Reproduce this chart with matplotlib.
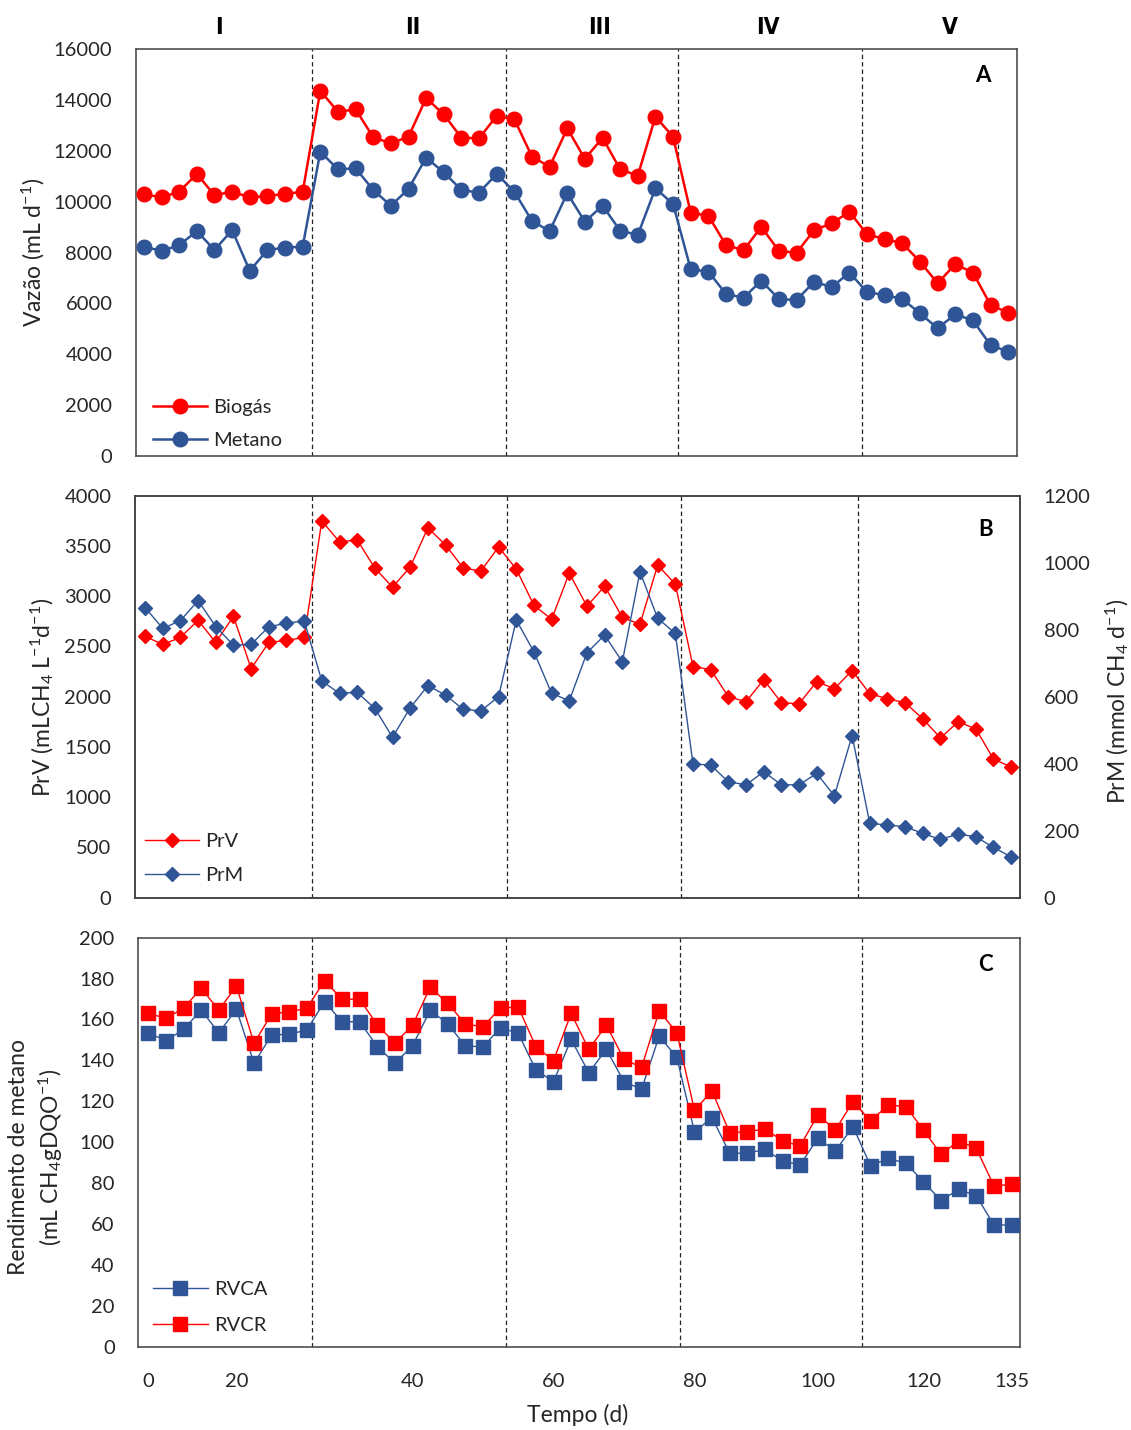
import numpy as np
import matplotlib
matplotlib.use("Agg")
import matplotlib.pyplot as plt

plt.rcParams["font.family"] = ["Lato", "DejaVu Sans"]
plt.rcParams["mathtext.fontset"] = "custom"
plt.rcParams["mathtext.rm"] = "Lato"
plt.rcParams["mathtext.it"] = "Lato"

W, H = 1131, 1430
RED = "#FF0000"
BLUE = "#2F5597"
FRAME = "#404040"
TXT = "#262626"
FS = 14.5
LFS = 16.5

# --- data (one point per sampling, 50 samplings) ---
biogas = [10290, 10170, 10390, 11090, 10250, 10390, 10170, 10220, 10310, 10380,
          14360, 13530, 13630, 12530, 12290, 12550, 14070, 13430, 12510, 12490, 13370,
          13240, 11770, 11370, 12880, 11680, 12510, 11270, 11020, 13340, 12550,
          9560, 9450, 8290, 8090, 9010, 8060, 7990, 8880, 9150, 9600,
          8710, 8530, 8360, 7640, 6790, 7540, 7210, 5940, 5630]
metano = [8230, 8060, 8290, 8840, 8100, 8880, 7280, 8100, 8190, 8230,
          11960, 11270, 11310, 10460, 9840, 10500, 11730, 11150, 10460, 10350, 11090,
          10390, 9240, 8840, 10330, 9210, 9840, 8860, 8690, 10520, 9910,
          7340, 7250, 6370, 6220, 6890, 6170, 6130, 6850, 6640, 7210,
          6440, 6330, 6170, 5610, 5020, 5570, 5330, 4360, 4100]

prv = [2600, 2520, 2590, 2760, 2540, 2800, 2280, 2540, 2560, 2590,
       3750, 3540, 3560, 3280, 3090, 3290, 3680, 3510, 3280, 3250, 3490,
       3270, 2910, 2770, 3230, 2900, 3100, 2790, 2720, 3310, 3120,
       2300, 2270, 2000, 1950, 2170, 1940, 1930, 2150, 2080, 2260,
       2030, 1980, 1940, 1780, 1590, 1750, 1680, 1380, 1300]
prm = [866, 804, 827, 887, 809, 754, 756, 809, 819, 827,
       647, 610, 613, 565, 479, 567, 633, 605, 562, 558, 600,
       829, 734, 610, 588, 731, 784, 704, 973, 834, 789,
       399, 396, 346, 337, 376, 337, 337, 371, 304, 484,
       222, 217, 212, 192, 174, 190, 182, 150, 122]

rvca = [153.5, 149.6, 155.2, 164.6, 153.5, 165.0, 138.6, 152.4, 152.8, 154.9,
        168.7, 158.9, 158.9, 146.7, 138.6, 147.2, 164.6, 157.8, 147.0, 146.7, 156.0,
        153.2, 135.3, 129.6, 150.3, 134.0, 145.4, 129.6, 125.9, 151.9, 141.5,
        105.1, 112.0, 94.6, 94.6, 96.5, 90.8, 88.9, 101.9, 95.8, 107.6,
        88.4, 92.1, 89.7, 80.7, 71.4, 77.0, 73.8, 59.5, 59.5]
rvcr = [163.0, 160.6, 165.5, 175.3, 164.6, 176.4, 148.4, 162.7, 163.8, 165.5,
        179.0, 169.9, 169.9, 157.3, 148.4, 157.3, 175.7, 167.9, 157.7, 156.5, 165.8,
        166.0, 146.7, 139.9, 163.0, 145.4, 157.3, 140.5, 136.6, 164.2, 153.5,
        115.7, 125.0, 104.6, 105.1, 106.5, 100.7, 98.1, 113.3, 106.0, 119.8,
        110.4, 118.2, 117.4, 106.0, 94.1, 100.7, 97.0, 78.6, 79.4]

# day labels shown under some samplings
day_tick_idx = [0, 5, 15, 23, 31, 38, 44, 49]
day_labels = ["0", "20", "40", "60", "80", "100", "120", "135"]
phases = ["I", "II", "III", "IV", "V"]


def add_axes(left, top, right, bottom):
    return plt.gcf().add_axes([left / W, 1 - bottom / H, (right - left) / W, (bottom - top) / H])


def frame(ax):
    for s in ax.spines.values():
        s.set_color(FRAME)
        s.set_linewidth(1.1)
    ax.tick_params(length=0, labelsize=FS, colors=TXT, pad=17)


def style(ax, xlim, bounds, letter, letter_y):
    ax.set_xlim(*xlim)
    frame(ax)
    for b in bounds:
        ax.axvline(b, color="#222222", lw=0.9, ls=(0, (3.5, 2.5)), zorder=1)
    ax.text(0.961, letter_y, letter, transform=ax.transAxes, fontsize=16,
            fontweight="bold", ha="center", va="center", color="black")


def legend(ax, anchor, spacing, handles=None, labels=None):
    kw = dict(loc="lower left", bbox_to_anchor=anchor, frameon=False, fontsize=FS,
              handlelength=2.7, handletextpad=0.3, labelspacing=spacing,
              borderpad=0, borderaxespad=0, labelcolor=TXT)
    if handles is None:
        ax.legend(**kw)
    else:
        ax.legend(handles, labels, **kw)


def main():
    x = np.arange(len(biogas))
    fig = plt.figure(figsize=(W / 100, H / 100), dpi=100)

    # --- A ---
    axA = add_axes(136, 49, 1017, 456)
    axA.plot(x, biogas, color=RED, lw=1.8, marker="o", ms=10.5, label="Biogás", zorder=3)
    axA.plot(x, metano, color=BLUE, lw=1.8, marker="o", ms=10.5, label="Metano", zorder=3)
    axA.set_ylim(0, 16000)
    axA.set_yticks(np.arange(0, 16001, 2000))
    axA.set_xticks([])
    style(axA, (-0.45, 49.5), [9.51, 20.5, 30.29, 40.69], "A", 0.935)
    legend(axA, (0.019, 0.018), 0.75)

    # --- B ---
    axB = add_axes(135, 495.7, 1020, 897.7)
    axB2 = axB.twinx()
    axB.plot(x, prv, color=RED, lw=1.0, marker="D", ms=7.6, label="PrV", zorder=3)
    axB2.plot(x, prm, color=BLUE, lw=1.0, marker="D", ms=7.6, label="PrM", zorder=3)
    axB.set_ylim(0, 4000)
    axB.set_yticks(np.arange(0, 4001, 500))
    axB2.set_ylim(0, 1200)
    axB2.set_yticks(np.arange(0, 1201, 200))
    axB.set_xticks([])
    style(axB, (-0.57, 49.5), [9.43, 20.47, 30.3, 40.34], "B", 0.915)
    frame(axB2)
    h1, l1 = axB.get_legend_handles_labels()
    h2, l2 = axB2.get_legend_handles_labels()
    legend(axB2, (0.011, 0.033), 0.85, h1 + h2, l1 + l2)

    # --- C ---
    axC = add_axes(138.3, 937.7, 1020, 1346.7)
    axC.plot(x, rvca, color=BLUE, lw=1.0, marker="s", ms=10.5, label="RVCA", zorder=3)
    axC.plot(x, rvcr, color=RED, lw=1.0, marker="s", ms=10.5, label="RVCR", zorder=4)
    axC.set_ylim(0, 200)
    axC.set_yticks(np.arange(0, 201, 20))
    style(axC, (-0.57, 49.48), [9.27, 20.28, 30.17, 40.52], "C", 0.935)
    axC.set_xticks(day_tick_idx)
    axC.set_xticklabels(day_labels)
    axC.tick_params(axis="x", pad=19)
    legend(axC, (0.017, 0.03), 0.95)

    # --- labels ---
    fig.text(33 / W, 1 - 252 / H, "Vazão (mL d$^{-1}$)", rotation=90,
             ha="center", va="center", fontsize=LFS, color=TXT)
    fig.text(42 / W, 1 - 697 / H, "PrV (mLCH$_4$ L$^{-1}$d$^{-1}$)", rotation=90,
             ha="center", va="center", fontsize=LFS, color=TXT)
    fig.text(1117 / W, 1 - 701 / H, "PrM (mmol CH$_4$ d$^{-1}$)", rotation=90,
             ha="center", va="center", fontsize=LFS, color=TXT)
    fig.text(36.5 / W, 1 - 1157 / H, "Rendimento de metano\n(mL CH$_4$gDQO$^{-1}$)",
             rotation=90, ha="center", va="center", fontsize=LFS, multialignment="center",
             linespacing=1.35, color=TXT)
    fig.text(578 / W, 1 - 1415 / H, "Tempo (d)", ha="center", va="center",
             fontsize=LFS, color=TXT)

    for name, px in zip(phases, [219, 413, 600, 768, 950]):
        fig.text(px / W, 1 - 27 / H, name, ha="center", va="center", fontsize=16.5,
                 fontweight="bold", fontstretch="condensed",
                 family=["DejaVu Sans", "Lato"])

    fig.savefig("out.png", dpi=100)


if __name__ == "__main__":
    main()
